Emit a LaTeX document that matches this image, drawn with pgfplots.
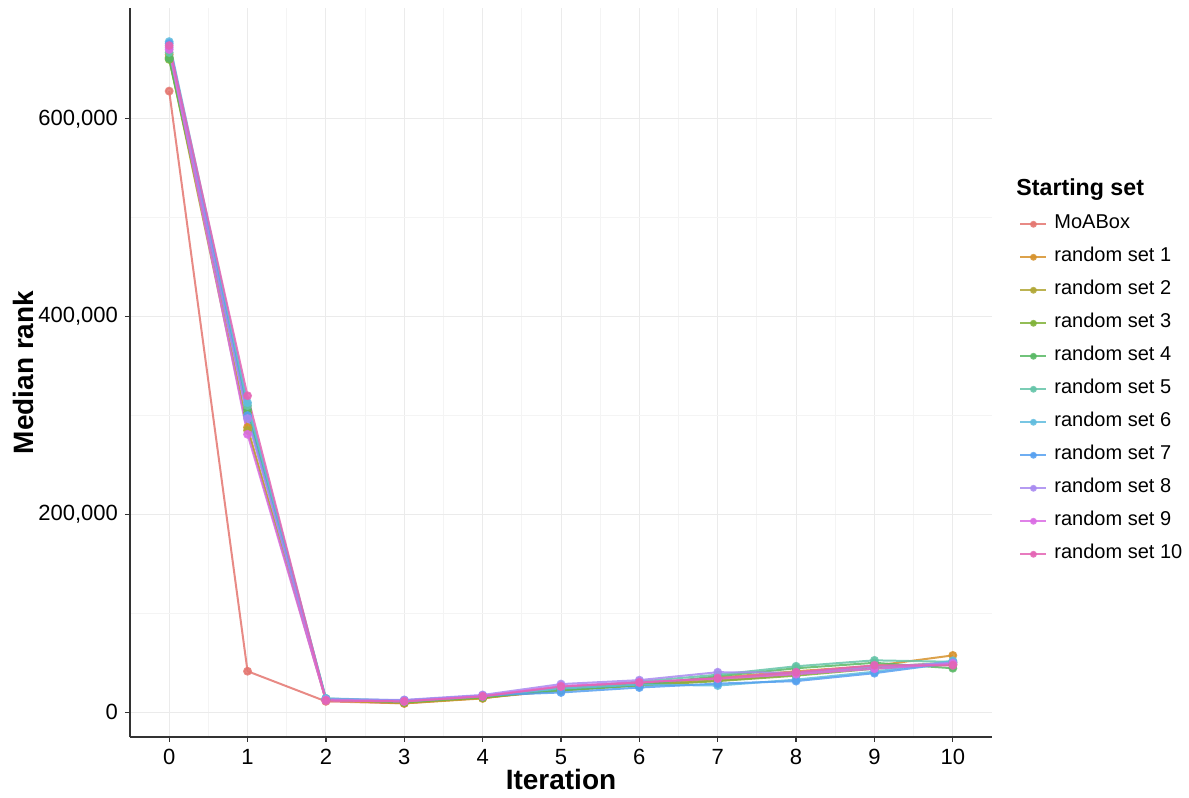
\documentclass[border=0pt]{standalone}
\usepackage{fontspec}
\setmainfont{Liberation Sans}
\usepackage{pgfplots}
\pgfplotsset{compat=1.18}

% muted hue palette, one colour per starting set
\definecolor{c0}{RGB}{228,118,112}
\definecolor{c1}{RGB}{214,146,44}
\definecolor{c2}{RGB}{176,166,52}
\definecolor{c3}{RGB}{128,178,56}
\definecolor{c4}{RGB}{88,184,100}
\definecolor{c5}{RGB}{100,196,168}
\definecolor{c6}{RGB}{96,188,222}
\definecolor{c7}{RGB}{86,160,240}
\definecolor{c8}{RGB}{168,138,240}
\definecolor{c9}{RGB}{218,108,228}
\definecolor{c10}{RGB}{228,100,180}
\definecolor{axisgray}{HTML}{333333}
\definecolor{gridmajor}{HTML}{EBEBEB}
\definecolor{gridminor}{HTML}{F4F4F4}

\begin{document}
\begin{tikzpicture}
\begin{axis}[
  at={(0,0)}, anchor=south west,
  scale only axis,
  width=431pt, height=364.5pt,
  xmin=-0.5, xmax=10.5,
  ymin=-25000, ymax=712000,
  axis lines*=left,
  axis line style={axisgray, line width=0.6pt},
  xtick={0,...,10},
  minor xtick={0.5,1.5,...,9.5},
  ytick={0,200000,400000,600000},
  minor ytick={100000,300000,500000},
  tick align=outside,
  tick style={axisgray, line width=0.6pt},
  major tick length=2.5pt,
  minor tick length=0pt,
  grid=both,
  major grid style={gridmajor, line width=0.5pt},
  minor grid style={gridminor, line width=0.5pt},
  scaled y ticks=false,
  /pgf/number format/.cd, fixed, 1000 sep={,}, assume math mode=true,
  /pgfplots/.cd,
  ticklabel style={font=\fontsize{11}{13}\selectfont, text=black},
  xlabel={\textbf{Iteration}},
  ylabel={\textbf{Median rank}},
  xlabel style={font=\fontsize{14}{16}\selectfont, at={(axis description cs:0.5,-0.0727)}, anchor=base},
  ylabel style={font=\fontsize{14}{16}\selectfont, at={(axis description cs:-0.1125,0.5)}, anchor=base},
  every axis plot/.append style={line width=1pt, opacity=0.85, mark=*, mark size=1.7pt},
  legend cell align=left,
  legend image code/.code={%
    \draw[mark repeat=2, mark phase=2, #1, line width=1pt, mark size=1.2pt]
      plot coordinates {(0pt,0pt) (6.5pt,0pt) (13pt,0pt)};},
  legend style={draw=none, fill=none,
    font=\fontsize{10}{12}\selectfont,
    at={(rel axis cs:1.0244,0.732)}, anchor=north west,
    row sep=0pt,
    nodes={inner sep=0pt, text height=10.5pt, text depth=6pt},
    /tikz/every odd column/.append style={column sep=3.5pt}},
]
\addplot[color=c0] coordinates {(0,628000)(1,41500)(2,11000)(3,9000)(4,14500)(5,22000)(6,27500)(7,32000)(8,38000)(9,45000)(10,48000)};
\addlegendentry{MoABox}
\addplot[color=c1] coordinates {(0,665000)(1,288000)(2,12000)(3,9000)(4,14000)(5,24000)(6,29000)(7,35000)(8,41500)(9,47000)(10,57500)};
\addlegendentry{random set 1}
\addplot[color=c2] coordinates {(0,662000)(1,285000)(2,12500)(3,9500)(4,14500)(5,23000)(6,28500)(7,33500)(8,39500)(9,45500)(10,50500)};
\addlegendentry{random set 2}
\addplot[color=c3] coordinates {(0,660000)(1,303000)(2,13000)(3,10000)(4,15000)(5,22000)(6,27000)(7,31500)(8,37000)(9,44000)(10,48500)};
\addlegendentry{random set 3}
\addplot[color=c4] coordinates {(0,661000)(1,306000)(2,13000)(3,10500)(4,15500)(5,22500)(6,27500)(7,36500)(8,44500)(9,50000)(10,44500)};
\addlegendentry{random set 4}
\addplot[color=c5] coordinates {(0,667000)(1,310000)(2,14000)(3,11000)(4,16000)(5,25000)(6,31000)(7,38000)(8,46500)(9,52500)(10,51000)};
\addlegendentry{random set 5}
\addplot[color=c6] coordinates {(0,678000)(1,313000)(2,14000)(3,12000)(4,16500)(5,24000)(6,28000)(7,27000)(8,33000)(9,41000)(10,52000)};
\addlegendentry{random set 6}
\addplot[color=c7] coordinates {(0,676000)(1,300000)(2,13000)(3,12000)(4,17000)(5,20000)(6,25000)(7,29000)(8,31500)(9,39500)(10,50000)};
\addlegendentry{random set 7}
\addplot[color=c8] coordinates {(0,672000)(1,297000)(2,13000)(3,12500)(4,17500)(5,28500)(6,32500)(7,40500)(8,40000)(9,46000)(10,50000)};
\addlegendentry{random set 8}
\addplot[color=c9] coordinates {(0,670000)(1,281000)(2,12000)(3,11000)(4,16500)(5,26500)(6,30500)(7,34000)(8,38500)(9,44000)(10,49000)};
\addlegendentry{random set 9}
\addplot[color=c10] coordinates {(0,674000)(1,320000)(2,12000)(3,11000)(4,16000)(5,26000)(6,30000)(7,34500)(8,40500)(9,47500)(10,47500)};
\addlegendentry{random set 10}
\end{axis}
% legend title
\node[anchor=west, inner sep=0pt, font=\fontsize{11.6}{13}\selectfont\bfseries] at (443pt,273.5pt) {Starting set};
\pgfresetboundingbox
\path[use as bounding box] (-65pt,-30.5pt) rectangle (529.5pt,368.5pt);
\end{tikzpicture}
\end{document}
